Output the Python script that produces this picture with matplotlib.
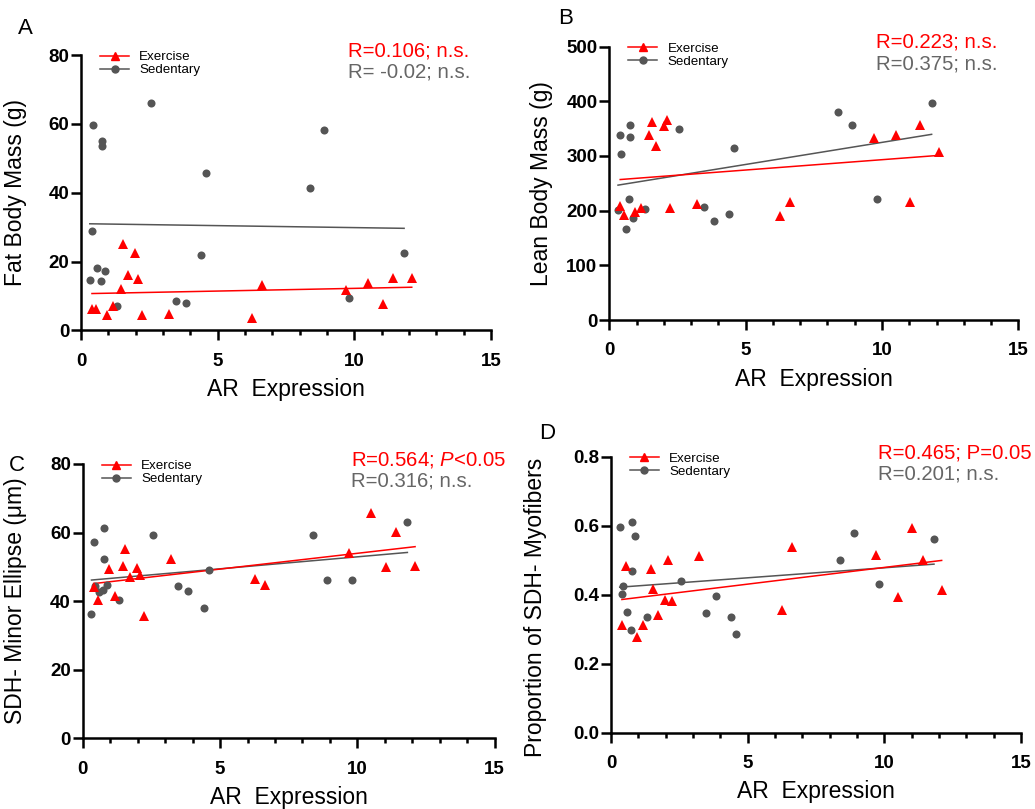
"""
Four scatter panels: AR expression against body composition and
SDH measures, exercise vs sedentary, with a linear fit for each group.
"""
import numpy as np
import matplotlib
matplotlib.use('Agg')
import matplotlib.pyplot as plt
from matplotlib import lines as mlines
from matplotlib import ticker as mticker


########  parameter setup  #########

plt.rcParams['font.family'] = ['Liberation Sans', 'DejaVu Sans']
plt.rcParams['mathtext.fontset'] = 'custom'
plt.rcParams['mathtext.rm'] = 'Liberation Sans'
plt.rcParams['mathtext.it'] = 'Liberation Sans:italic'

EXPORT_FNAME_PLOT = 'out.png'

FIG_WIDTH = 10.35
FIG_HEIGHT = 8.09

EX_COLOR = '#ff0000'
SED_COLOR = '#555555'
SED_TEXT = '#666666'

####################################


########  data  #########

# AR expression, one value per animal
EX_AR = [0.40, 0.54, 0.95, 1.16, 1.46, 1.55, 1.73, 1.99, 2.10,
         2.24, 3.21, 6.27, 6.62, 9.71, 10.51, 11.03, 11.40, 12.10]
SED_AR = [0.32, 0.40, 0.44, 0.60, 0.73, 0.76, 0.76, 0.87, 1.32,
          2.56, 3.48, 3.85, 4.40, 4.59, 8.37, 8.89, 9.82, 11.82]

# A: fat body mass (g)
EX_FAT = [6.3, 6.3, 4.5, 7.2, 12.0, 25.2, 16.0, 22.6, 15.0,
          4.5, 4.7, 3.7, 13.2, 11.6, 13.9, 7.6, 15.3, 15.3]
SED_FAT = [14.7, 28.8, 59.8, 18.0, 14.4, 55.1, 53.7, 17.2, 7.2,
           66.0, 8.6, 8.1, 21.9, 45.7, 41.4, 58.1, 9.5, 22.6]

# B: lean body mass (g)
EX_LEAN = [209, 192, 197, 205, 338, 362, 318, 355, 366,
           204, 213, 191, 216, 332, 339, 215, 357, 308]
SED_LEAN = [201, 338, 304, 166, 221, 335, 356, 186, 203,
            349, 207, 181, 193, 315, 380, 357, 221, 396]

# C: SDH- minor ellipse (um)
EX_ELLIPSE = [44.0, 40.2, 49.4, 41.4, 50.1, 55.3, 47.0, 49.7, 47.7,
              35.8, 52.2, 46.4, 44.6, 53.9, 65.6, 49.9, 60.2, 50.2]
SED_ELLIPSE = [36.3, 57.1, 44.4, 42.7, 43.3, 61.3, 52.4, 44.7, 40.4,
               59.3, 44.5, 43.0, 38.0, 49.0, 59.2, 46.3, 46.3, 63.2]

# D: proportion of SDH- myofibers
EX_SDH = [0.311, 0.482, 0.276, 0.311, 0.474, 0.417, 0.342, 0.384, 0.500,
          0.382, 0.512, 0.357, 0.538, 0.515, 0.393, 0.594, 0.500, 0.414]
SED_SDH = [0.597, 0.401, 0.426, 0.350, 0.298, 0.468, 0.611, 0.571, 0.334,
           0.439, 0.346, 0.397, 0.334, 0.287, 0.500, 0.579, 0.432, 0.560]

LETTERS = ['A', 'B', 'C', 'D']
YLABELS = ['Fat Body Mass (g)', 'Lean Body Mass (g)',
           'SDH- Minor Ellipse (μm)', 'Proportion of SDH- Myofibers']
XLABEL = 'AR  Expression'
YLIMS = [(0, 80), (0, 500), (0, 80), (0, 0.8)]
YSTEPS = [20, 100, 20, 0.2]
EX_STATS = ['R=0.106; n.s.', 'R=0.223; n.s.',
            'R=0.564; $\\mathit{P}$<0.05', 'R=0.465; P=0.05']
SED_STATS = ['R= -0.02; n.s.', 'R=0.375; n.s.',
             'R=0.316; n.s.', 'R=0.201; n.s.']

####################################


#########  draw plot  #########

fig = plt.figure(figsize=(FIG_WIDTH, FIG_HEIGHT), dpi=100)

rects = [[0.0783, 0.5916, 0.3961, 0.3404],
         [0.5887, 0.6044, 0.3952, 0.3381],
         [0.0799, 0.0874, 0.3981, 0.3391],
         [0.5903, 0.0943, 0.3961, 0.3412]]
letter_xy = [(25, 28), (566, 19), (17, 466), (547, 433)]
ylabel_xy = [(-0.132, 0.5), (-0.137, 0.5), (-0.135, 0.5), (-0.156, 0.455)]

ex_sets = [EX_FAT, EX_LEAN, EX_ELLIPSE, EX_SDH]
sed_sets = [SED_FAT, SED_LEAN, SED_ELLIPSE, SED_SDH]

for i in range(4):
    ax = fig.add_axes(rects[i])

    # points
    ax.plot(SED_AR, sed_sets[i], linestyle='none', marker='o',
            color=SED_COLOR, markersize=5.8, markeredgewidth=0, zorder=3,
            clip_on=False)
    ax.plot(EX_AR, ex_sets[i], linestyle='none', marker='^',
            color=EX_COLOR, markersize=6.5, markeredgewidth=0, zorder=4,
            clip_on=False)

    # linear fits over each group's own range
    for xs, ys, c in [(SED_AR, sed_sets[i], SED_COLOR),
                      (EX_AR, ex_sets[i], EX_COLOR)]:
        slope, icpt = np.polyfit(xs, ys, 1)
        xx = np.array([min(xs), max(xs)])
        ax.plot(xx, slope * xx + icpt, color=c, linewidth=1.1, zorder=2)

    # axes
    ax.set_xlim(0, 15)
    ax.set_ylim(*YLIMS[i])
    ax.xaxis.set_major_locator(mticker.MultipleLocator(5))
    ax.xaxis.set_minor_locator(mticker.MultipleLocator(1))
    ax.yaxis.set_major_locator(mticker.MultipleLocator(YSTEPS[i]))
    if i == 3:
        ax.yaxis.set_major_formatter(mticker.FormatStrFormatter('%.1f'))
    else:
        ax.yaxis.set_major_formatter(mticker.FormatStrFormatter('%d'))

    for side in ['top', 'right']:
        ax.spines[side].set_visible(False)
    for side in ['left', 'bottom']:
        ax.spines[side].set_linewidth(1.8)

    ax.tick_params(axis='both', which='major', direction='out',
                   length=7, width=1.8, labelsize=13.5)
    ax.tick_params(axis='x', which='minor', direction='out',
                   length=3.5, width=1.8)
    ax.tick_params(axis='x', which='major', pad=9)
    ax.tick_params(axis='y', which='major', pad=1.5)
    plt.setp(ax.get_xticklabels() + ax.get_yticklabels(), fontweight='bold')

    ax.set_xlabel(XLABEL, fontsize=16.5, labelpad=6)
    ax.set_ylabel(YLABELS[i], fontsize=16.5)
    ax.yaxis.set_label_coords(*ylabel_xy[i])

    # legend
    handles = [mlines.Line2D([], [], color=EX_COLOR, marker='^',
                             markersize=5.5, linewidth=1.1, label='Exercise'),
               mlines.Line2D([], [], color=SED_COLOR, marker='o',
                             markersize=5, linewidth=1.1, label='Sedentary')]
    ax.legend(handles=handles, loc='upper left',
              bbox_to_anchor=(0.046, 1.015), frameon=False,
              fontsize=9.6, handlelength=2.2, handletextpad=0.75,
              labelspacing=0.05, borderpad=0, borderaxespad=0)

    # correlation stats
    ax.annotate(EX_STATS[i], xy=(0.651, 1), xycoords='axes fraction',
                xytext=(0, 3), textcoords='offset points',
                va='center', ha='left', fontsize=14.7, color=EX_COLOR)
    ax.annotate(SED_STATS[i], xy=(0.651, 1), xycoords='axes fraction',
                xytext=(0, -12.5), textcoords='offset points',
                va='center', ha='left', fontsize=14.7, color=SED_TEXT)

    # panel letter
    fig.text(letter_xy[i][0] / 1035, 1 - letter_xy[i][1] / 809,
             LETTERS[i], fontsize=16, ha='center', va='center')

plt.savefig(EXPORT_FNAME_PLOT, dpi=100)
plt.close()

####################################
